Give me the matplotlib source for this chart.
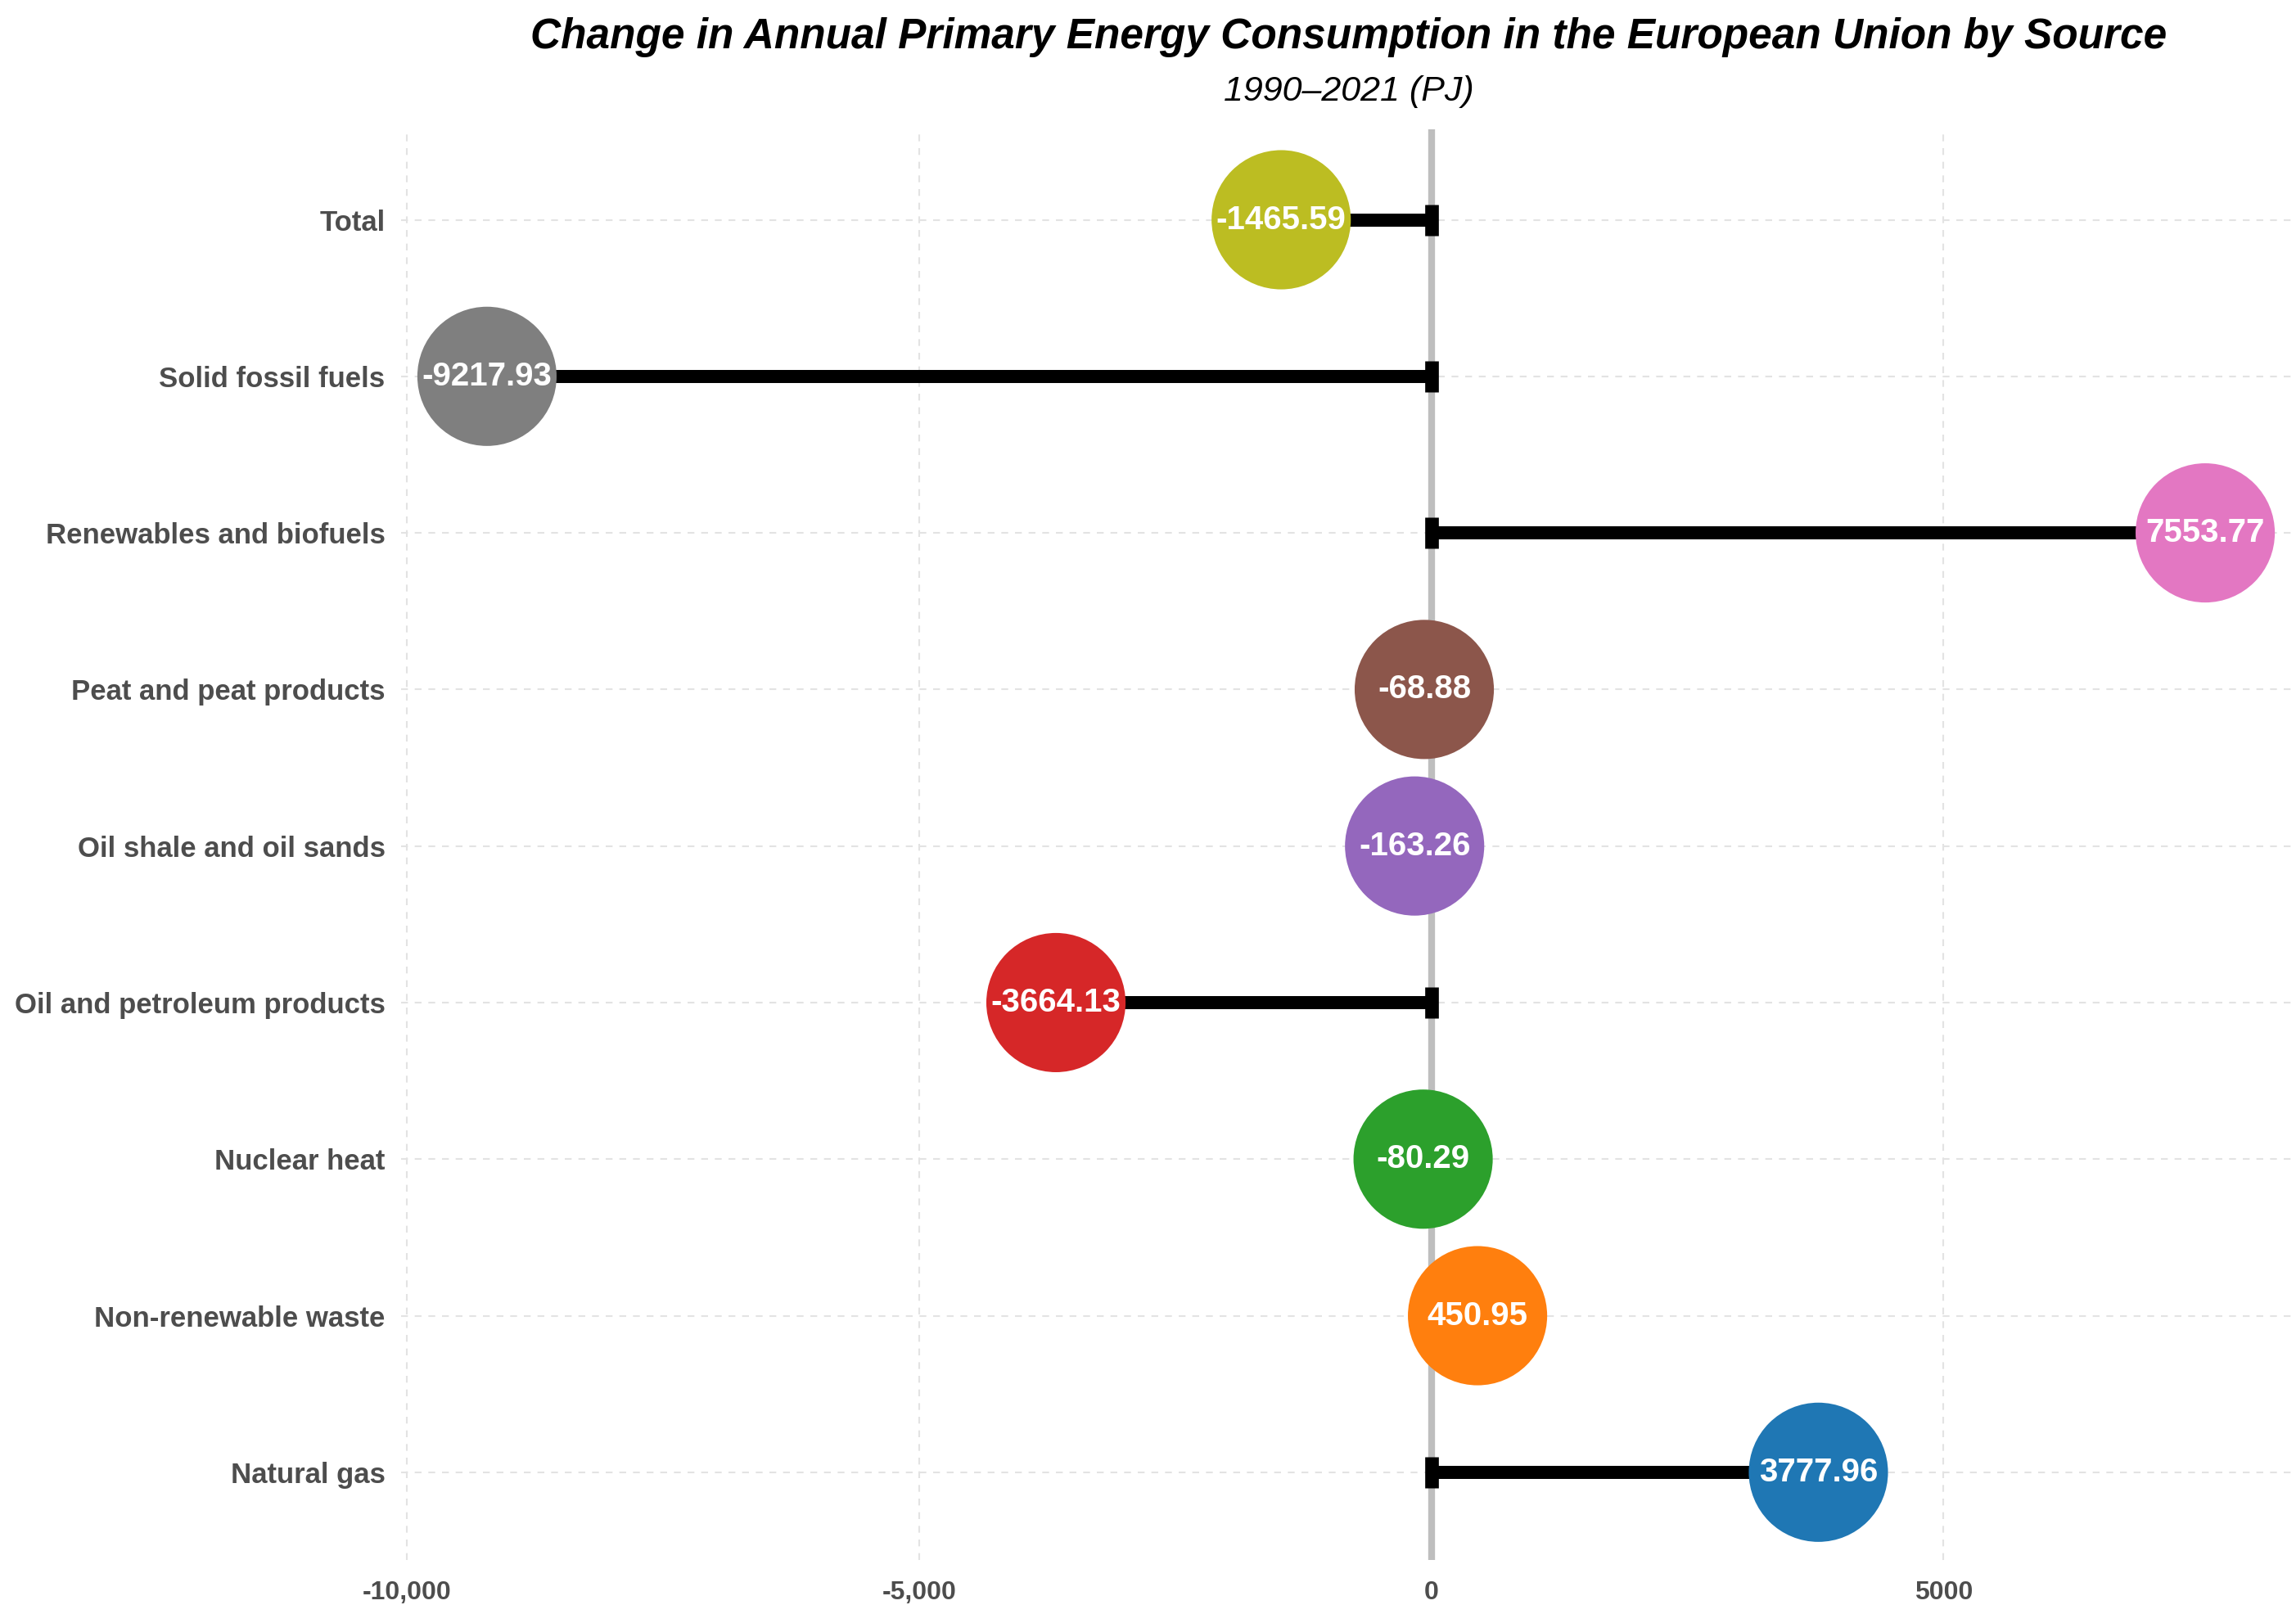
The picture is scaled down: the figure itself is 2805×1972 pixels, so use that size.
import matplotlib
matplotlib.use('Agg')
import matplotlib.pyplot as plt
import numpy as np

# データ
SOURCES = ['Natural gas', 'Non-renewable waste', 'Nuclear heat',
           'Oil and petroleum products', 'Oil shale and oil sands',
           'Peat and peat products', 'Renewables and biofuels',
           'Solid fossil fuels', 'Total']
CHANGE = [3777.96, 450.95, -80.29, -3664.13, -163.26, -68.88, 7553.77, -9217.93, -1465.59]
COLORS = ['#1f77b4', '#ff7f0e', '#2ca02c', '#d62728', '#9467bd',
          '#8c564b', '#e377c2', '#7f7f7f', '#bcbd22']
X_TICKS = [-10000, -5000, 0, 5000]
X_TICK_LABELS = ['-10,000', '-5,000', '0', '5000']

TITLE = 'Change in Annual Primary Energy Consumption in the European Union by Source'
SUBTITLE = '1990–2021 (PJ)'

plt.rcParams['font.family'] = ['Liberation Sans', 'DejaVu Sans']

# 図の配置
AX_LEFT, AX_BOTTOM, AX_W, AX_H = 0.1747, 0.0335, 0.8253, 0.8866

fig = plt.figure(figsize=(28.05, 19.72), dpi=100)
ax = fig.add_axes([AX_LEFT, AX_BOTTOM, AX_W, AX_H])

y = np.arange(len(SOURCES))

# 0の縦線
ax.axvline(0, color='#BEBEBE', lw=6, zorder=2)

# 線分とマーカー
for yi, v in zip(y, CHANGE):
    ax.plot([0, v], [yi, yi], color='black', lw=11.5, solid_capstyle='butt', zorder=3)
    ax.plot([0], [yi], marker='|', color='black', markersize=27, markeredgewidth=12, zorder=4)

# 円
ax.scatter(CHANGE, y, s=15000, c=COLORS, zorder=5, linewidths=0, clip_on=False)
for yi, v in zip(y, CHANGE):
    ax.text(v, yi, f'{v:.2f}', color='white', fontsize=29, fontweight='bold',
            ha='center', va='center', zorder=6)

ax.set_xlim(-10056, 8440)
ax.set_ylim(-0.56, 8.58)
ax.set_yticks(y)
ax.set_yticklabels(SOURCES, fontsize=25, fontweight='bold', color='#4D4D4D')
ax.set_xticks(X_TICKS)
ax.set_xticklabels(X_TICK_LABELS, fontsize=23, fontweight='bold', color='#4D4D4D')
ax.tick_params(axis='both', length=0)
ax.tick_params(axis='x', pad=18)
ax.tick_params(axis='y', pad=14)

ax.grid(True, color='#E3E3E3', linestyle=(0, (4, 4)), lw=1.5, zorder=0)
ax.set_axisbelow(True)
for s in ax.spines.values():
    s.set_visible(False)

cx = AX_LEFT + AX_W / 2
fig.text(cx, 0.9701, TITLE, ha='center', va='baseline', fontsize=37,
         fontweight='bold', fontstyle='italic')
fig.text(cx, 0.9376, SUBTITLE, ha='center', va='baseline', fontsize=31, fontstyle='italic')

fig.savefig('out.png', dpi=100)
